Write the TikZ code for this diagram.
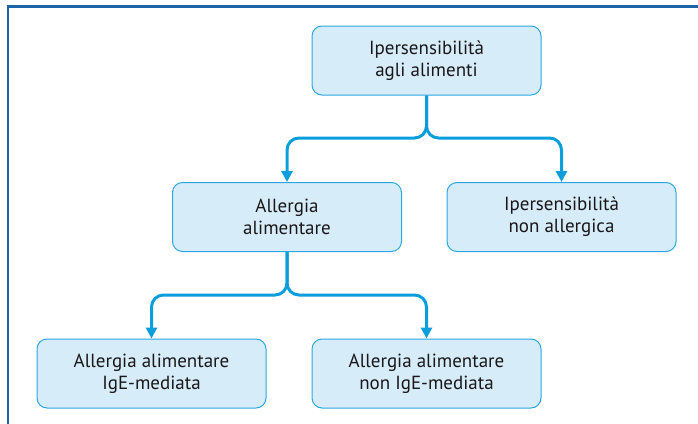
\documentclass[tikz,border=0pt]{standalone}
\usepackage{fontspec}
\setmainfont{PT Sans}
\usetikzlibrary{arrows.meta}
\definecolor{boxfill}{HTML}{D6ECF9}
\definecolor{boxline}{HTML}{2AA7E1}
\definecolor{arrcol}{HTML}{0A9EDD}
\definecolor{framecol}{HTML}{1B64A8}
\definecolor{txt}{HTML}{1A1718}
\tikzset{
  box/.style={draw=boxline, line width=1pt, fill=boxfill, rounded corners=10pt,
    minimum width=229pt, minimum height=69pt, inner sep=0pt, align=center,
    text=txt, font=\fontsize{19}{22}\selectfont},
  arr/.style={draw=arrcol, line width=3pt, rounded corners=12pt,
    -{Triangle[width=11pt,length=11pt]}},
  frameline/.style={draw=framecol, line width=2.6pt}
}
\begin{document}
\begin{tikzpicture}[x=1pt,y=-1pt]
\useasboundingbox (0,0) rectangle (698,423);
\draw[frameline] (8,424) -- (8,6.3) -- (699,6.3);
\node[box] (b1) at (426.5,60.5) {Ipersensibilità\\agli alimenti};
\node[box] (b2) at (287,217) {Allergia\\alimentare};
\node[box] (b3) at (561.5,217) {Ipersensibilità\\non allergica};
\node[box] (b4) at (151.5,373.5) {Allergia alimentare\\IgE-mediata};
\node[box] (b5) at (426.5,373.5) {Allergia alimentare\\non IgE-mediata};
\coordinate (j1) at (426.5,138);
\coordinate (j2) at (287,295);
\draw[arr] (b1.south) -- (j1) -| (b2.north);
\draw[arr] (b1.south) -- (j1) -| (b3.north);
\draw[arr] (b2.south) -- (j2) -| (b4.north);
\draw[arr] (b2.south) -- (j2) -| (b5.north);
\end{tikzpicture}
\end{document}
